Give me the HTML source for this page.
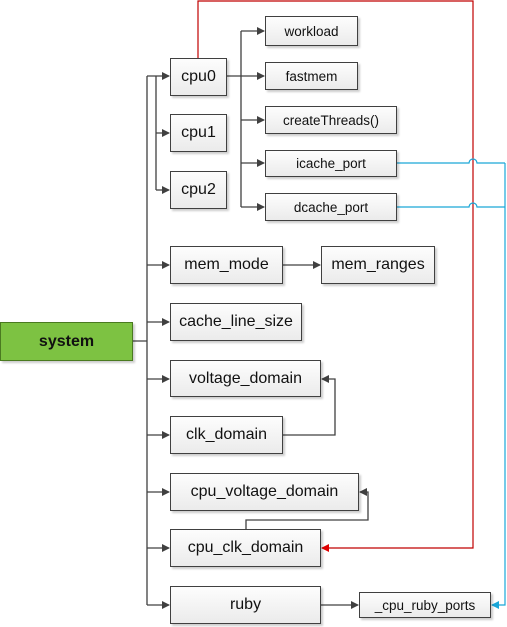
<!DOCTYPE html>
<html><head><style>
body{margin:0;width:507px;height:627px;background:#fff;position:relative;overflow:hidden;font-family:"Liberation Sans",sans-serif;}
.b{position:absolute;box-sizing:border-box;border:1px solid #404040;background:linear-gradient(#fdfdfd,#ebebeb);box-shadow:2px 2px 2px rgba(0,0,0,.2);display:flex;align-items:center;justify-content:center;color:#111;font-size:16px;}
.s{font-size:13.5px;}
svg{position:absolute;left:0;top:0;}
</style></head><body>
<svg width="507" height="627">
<defs>
<marker id="a" markerWidth="8" markerHeight="8" refX="7" refY="4" orient="auto" markerUnits="userSpaceOnUse"><path d="M0,0L8,4L0,8z" fill="#404040"/></marker>
<marker id="r" markerWidth="8" markerHeight="8" refX="7" refY="4" orient="auto" markerUnits="userSpaceOnUse"><path d="M0,0L8,4L0,8z" fill="#e00000"/></marker>
<marker id="c" markerWidth="8" markerHeight="8" refX="7" refY="4" orient="auto" markerUnits="userSpaceOnUse"><path d="M0,0L8,4L0,8z" fill="#1aa6d8"/></marker>
</defs>
<g stroke="#404040" stroke-width="1.3" fill="none">
<path d="M132,341H147M147,76V605"/>
<path d="M147,76H169" marker-end="url(#a)"/>
<path d="M156,76V190M156,133H169" marker-end="url(#a)"/>
<path d="M156,190H169" marker-end="url(#a)"/>
<path d="M147,265H169" marker-end="url(#a)"/>
<path d="M147,322H169" marker-end="url(#a)"/>
<path d="M147,379H169" marker-end="url(#a)"/>
<path d="M147,435H169" marker-end="url(#a)"/>
<path d="M147,492H169" marker-end="url(#a)"/>
<path d="M147,548H169" marker-end="url(#a)"/>
<path d="M147,605H169" marker-end="url(#a)"/>
<path d="M227,76H241M241,31V207"/>
<path d="M241,31H264" marker-end="url(#a)"/>
<path d="M241,76H264" marker-end="url(#a)"/>
<path d="M241,120H264" marker-end="url(#a)"/>
<path d="M241,163H264" marker-end="url(#a)"/>
<path d="M241,207H264" marker-end="url(#a)"/>
<path d="M283,265H320" marker-end="url(#a)"/>
<path d="M283,435H335V379H322" marker-end="url(#a)"/>
<path d="M246,529V520H368V492H360" marker-end="url(#a)"/>
<path d="M321,605H358" marker-end="url(#a)"/>
</g>
<path d="M198,58V1H473V548H322" stroke="#c00000" stroke-width="1.2" fill="none" marker-end="url(#r)"/>
<g stroke="#1aa6d8" stroke-width="1.2" fill="none">
<path d="M397,163H469A4,4 0 0 1 477,163H505"/>
<path d="M397,207H469A4,4 0 0 1 477,207H505"/>
<path d="M505,163V605H492" marker-end="url(#c)"/>
</g>
</svg>
<div class="b" style="left:0;top:322px;width:133px;height:39px;background:#7dc242;border-color:#4a7a20;font-weight:bold;font-size:16px;">system</div>
<div class="b" style="left:170px;top:58px;width:57px;height:38px">cpu0</div>
<div class="b" style="left:170px;top:114px;width:57px;height:38px">cpu1</div>
<div class="b" style="left:170px;top:171px;width:57px;height:38px">cpu2</div>
<div class="b s" style="left:265px;top:16px;width:93px;height:30px">workload</div>
<div class="b s" style="left:265px;top:62px;width:93px;height:28px">fastmem</div>
<div class="b s" style="left:265px;top:106px;width:132px;height:28px">createThreads()</div>
<div class="b s" style="left:265px;top:150px;width:132px;height:27px">icache_port</div>
<div class="b s" style="left:265px;top:193px;width:132px;height:28px">dcache_port</div>
<div class="b" style="left:170px;top:246px;width:113px;height:38px">mem_mode</div>
<div class="b" style="left:321px;top:246px;width:114px;height:38px">mem_ranges</div>
<div class="b" style="left:170px;top:303px;width:132px;height:38px">cache_line_size</div>
<div class="b" style="left:170px;top:360px;width:151px;height:37px">voltage_domain</div>
<div class="b" style="left:170px;top:416px;width:113px;height:38px">clk_domain</div>
<div class="b" style="left:170px;top:473px;width:189px;height:38px">cpu_voltage_domain</div>
<div class="b" style="left:170px;top:529px;width:151px;height:38px">cpu_clk_domain</div>
<div class="b" style="left:170px;top:586px;width:151px;height:38px">ruby</div>
<div class="b s" style="left:359px;top:592px;width:132px;height:26px">_cpu_ruby_ports</div>
</body></html>
